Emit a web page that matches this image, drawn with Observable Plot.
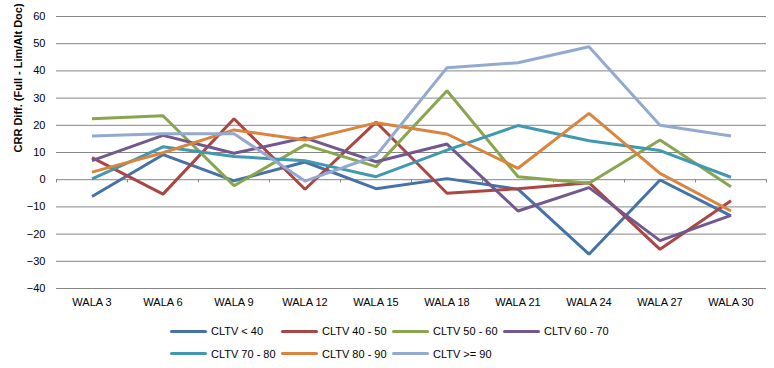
<!DOCTYPE html>
<html><head><meta charset="utf-8">
<script src="https://cdn.jsdelivr.net/npm/d3@7"></script>
<script src="https://cdn.jsdelivr.net/npm/@observablehq/plot@0.6"></script>
<style>
body{margin:0;background:#fff;font-family:"Liberation Sans",Arial,sans-serif;}
#chart{position:relative;width:774px;height:368px;overflow:hidden;}
#legend{position:absolute;left:0;top:312px;width:774px;height:56px;}
.item{position:absolute;display:flex;align-items:center;font-size:11px;color:#000;white-space:nowrap;transform:translateY(-50%);}
.sw{width:37px;height:3px;margin-right:4px;border-radius:1.5px;}
</style></head><body><div id="chart"><div id="plot"></div><div id="legend"></div></div>
<script>
const categories = ["WALA 3","WALA 6","WALA 9","WALA 12","WALA 15","WALA 18","WALA 21","WALA 24","WALA 27","WALA 30"];
const seriesNames = ["CLTV < 40","CLTV 40 - 50","CLTV 50 - 60","CLTV 60 - 70","CLTV 70 - 80","CLTV 80 - 90","CLTV >= 90"];
const seriesColors = ["#4572A7","#AA4643","#89A54E","#71588F","#4198AF","#DB843D","#93A9CF"];
const yTicks = [-40,-30,-20,-10,0,10,20,30,40,50,60];
const yLabel = "CRR Diff. (Full - Lim/Alt Doc)";

const cltvLt40  = [-6.2, 9.2, -0.4, 6.5, -3.3, 0.4, -3.5, -27.4, -0.1, -13.3];
const cltv40_50 = [8.1, -5.3, 22.4, -3.5, 21.2, -5.0, -3.3, -1.1, -25.6, -7.7];
const cltv50_60 = [22.4, 23.5, -2.2, 12.8, 4.8, 32.7, 1.1, -1.3, 14.6, -2.6];
const cltv60_70 = [7.0, 16.3, 9.7, 15.4, 6.6, 13.1, -11.5, -2.9, -22.4, -13.1];
const cltv70_80 = [0.3, 12.1, 8.5, 7.0, 1.1, 10.9, 19.9, 14.3, 10.7, 0.9];
const cltv80_90 = [2.8, 9.9, 18.3, 14.6, 20.9, 16.8, 4.2, 24.4, 2.3, -11.5];
const cltvGe90  = [16.1, 16.9, 16.9, -0.5, 8.8, 41.2, 43.0, 48.9, 20.0, 16.1];

const seriesValues = [cltvLt40, cltv40_50, cltv50_60, cltv60_70, cltv70_80, cltv80_90, cltvGe90];

const rows = [];
seriesValues.forEach((vals, s) => vals.forEach((v, i) => rows.push({i, cat: categories[i], series: seriesNames[s], value: v})));

const boundaries = d3.range(categories.length + 1).map(i => i - 0.5);

const chart = Plot.plot({
  width: 774,
  height: 312,
  marginTop: 16,
  marginBottom: 24,
  marginLeft: 56,
  marginRight: 8,
  style: {fontFamily: "'Liberation Sans', Arial, sans-serif", fontSize: "11px", color: "#000", background: "#fff"},
  x: {type: "linear", domain: [-0.5, categories.length - 0.5]},
  y: {domain: [-40, 60]},
  color: {domain: seriesNames, range: seriesColors},
  marks: [
    Plot.gridY(yTicks, {stroke: "#868686", strokeOpacity: 1, strokeWidth: 1}),
    Plot.ruleX(boundaries, {y1: 0, y2: -1.2, stroke: "#868686", strokeWidth: 1}),
    Plot.axisY(yTicks, {tickSize: 0, tickPadding: 11, label: null, fill: "#000"}),
    Plot.axisX(d3.range(categories.length), {tickSize: 0, tickPadding: 10, tickFormat: i => categories[i], label: null, fill: "#000"}),
    Plot.text([yLabel], {frameAnchor: "left", rotate: -90, dx: -38, fontWeight: "bold", fontSize: 11, fill: "#000"}),
    Plot.line(rows, {x: "i", y: "value", z: "series", stroke: "series", strokeWidth: 3, strokeLinejoin: "miter", strokeLinecap: "butt"})
  ]
});
document.getElementById("plot").appendChild(chart);

const legend = document.getElementById("legend");
const rowY = [19, 41.5];
seriesNames.forEach((name, k) => {
  const col = k % 4, row = Math.floor(k / 4);
  const item = document.createElement("div");
  item.className = "item";
  item.style.left = (170 + col * 111) + "px";
  item.style.top = rowY[row] + "px";
  const sw = document.createElement("span");
  sw.className = "sw";
  sw.style.background = seriesColors[k];
  const t = document.createElement("span");
  t.textContent = name;
  item.appendChild(sw);
  item.appendChild(t);
  legend.appendChild(item);
});
</script>
</body></html>
